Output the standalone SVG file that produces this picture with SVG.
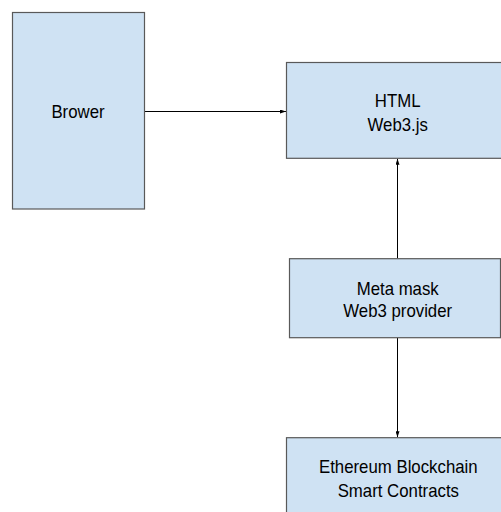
<svg xmlns="http://www.w3.org/2000/svg" width="501" height="512" viewBox="0 0 501 512">
<defs>
<style>
.box{fill:#cfe2f3;stroke:#595959;stroke-width:1.2}
.lbl{font-family:"Liberation Sans",Arial,sans-serif;font-size:16.8px;fill:#000;text-anchor:middle}
.conn{stroke:#000;stroke-width:1;fill:none}
</style>
<marker id="ah" viewBox="0 0 6 4" refX="6" refY="2" markerWidth="6" markerHeight="4" markerUnits="userSpaceOnUse" orient="auto">
<path d="M0,0 L6,2 L0,4 Z" fill="#000"/>
</marker>
</defs>
<rect width="501" height="512" fill="#fff"/>
<g id="connectors">
<line class="conn" x1="144.5" y1="111.5" x2="286" y2="111.5" marker-end="url(#ah)"/>
<line class="conn" x1="397.5" y1="258.5" x2="397.5" y2="158.8" marker-end="url(#ah)"/>
<line class="conn" x1="397.5" y1="337.8" x2="397.5" y2="437.2" marker-end="url(#ah)"/>
</g>
<g id="browser">
<rect class="box" x="12.5" y="12.5" width="132" height="196.5"/>
<text class="lbl" transform="translate(78,118.3) scale(1,1.12)">Brower</text>
</g>
<g id="html">
<rect class="box" x="286.5" y="62.5" width="220" height="95.8"/>
<text class="lbl" transform="translate(397.7,107.3) scale(1,1.12)">HTML</text>
<text class="lbl" transform="translate(397.7,130.7) scale(1,1.12)">Web3.js</text>
</g>
<g id="metamask">
<rect class="box" x="289.5" y="258.7" width="211" height="79"/>
<text class="lbl" transform="translate(397.7,295) scale(1,1.12)">Meta mask</text>
<text class="lbl" transform="translate(397.7,316.7) scale(1,1.12)">Web3 provider</text>
</g>
<g id="ethereum">
<rect class="box" x="286.5" y="437.7" width="220" height="90"/>
<text class="lbl" transform="translate(398.3,473.3) scale(1,1.12)">Ethereum Blockchain</text>
<text class="lbl" transform="translate(398.3,496.7) scale(1,1.12)">Smart Contracts</text>
</g>
</svg>
